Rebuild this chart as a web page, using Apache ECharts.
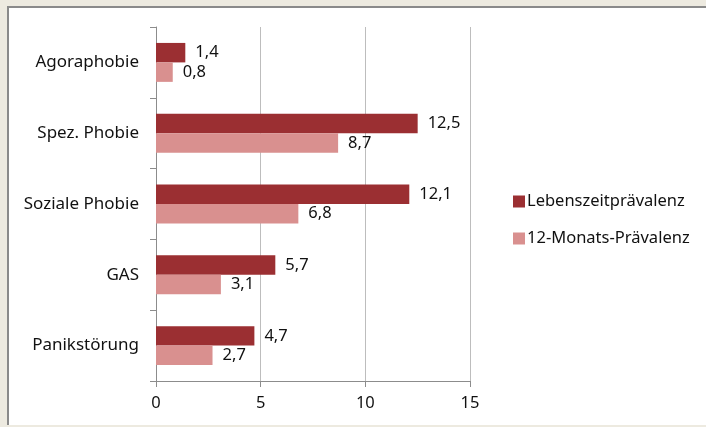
<!DOCTYPE html>
<html>
<head>
<meta charset="utf-8">
<script src="https://cdn.jsdelivr.net/npm/echarts@6/dist/echarts.min.js"></script>
<style>
html,body{margin:0;padding:0;width:706px;height:427px;background:#EDEAE0;overflow:hidden;}
#frame{position:absolute;left:7px;top:6px;width:699px;height:419px;background:#fff;border-left:2px solid #8a8a8a;border-top:2px solid #8a8a8a;box-sizing:border-box;}
#chart{position:absolute;left:0;top:0;width:706px;height:427px;}
</style>
</head>
<body>
<div id="frame"></div>
<div id="chart"></div>
<script>
const categories = ['Agoraphobie', 'Spez. Phobie', 'Soziale Phobie', 'GAS', 'Panikstörung'];
const lebenszeit = [1.4, 12.5, 12.1, 5.7, 4.7];
const zwoelfMonate = [0.8, 8.7, 6.8, 3.1, 2.7];
const seriesNames = ['Lebenszeitprävalenz', '12-Monats-Prävalenz'];
const xTicks = [0, 5, 10, 15];

const font = 'Noto Sans, sans-serif';
const chart = echarts.init(document.getElementById('chart'));
const lbl = {
  show: true, position: 'right', distance: 10,
  color: '#111', fontSize: 16.5, fontFamily: font,
  formatter: p => String(p.value).replace('.', ',')
};
chart.setOption({
  animation: false,
  backgroundColor: 'transparent',
  grid: {left: 156, right: 236, top: 27, bottom: 46, containLabel: false},
  legend: {
    orient: 'vertical', left: 508, top: 188, itemGap: 20,
    itemWidth: 12, itemHeight: 12, icon: 'rect',
    textStyle: {fontSize: 16.5, fontFamily: font, color: '#111', padding: [0, 0, 0, -3]},
    data: seriesNames
  },
  xAxis: {
    type: 'value', min: xTicks[0], max: xTicks[xTicks.length - 1], interval: 5,
    axisLine: {show: true, lineStyle: {color: '#8c8c8c', width: 1}},
    axisTick: {show: true, length: 6, lineStyle: {color: '#8c8c8c'}},
    axisLabel: {fontSize: 16.5, fontFamily: font, color: '#111', margin: 14},
    splitLine: {show: true, lineStyle: {color: '#bdbdbd', width: 1}}
  },
  yAxis: {
    type: 'category', data: categories, inverse: true,
    axisLine: {show: true, lineStyle: {color: '#8c8c8c', width: 1}},
    axisTick: {show: true, length: 6, lineStyle: {color: '#8c8c8c'}},
    axisLabel: {fontSize: 17, fontFamily: font, color: '#111', margin: 17}
  },
  series: [
    {name: seriesNames[0], type: 'bar', data: lebenszeit, barCategoryGap: '45%', barGap: '0%',
     itemStyle: {color: '#9B2F32'}, label: lbl},
    {name: seriesNames[1], type: 'bar', data: zwoelfMonate, barCategoryGap: '45%', barGap: '0%',
     itemStyle: {color: '#D9908F'}, label: lbl}
  ]
});
</script>
</body>
</html>
